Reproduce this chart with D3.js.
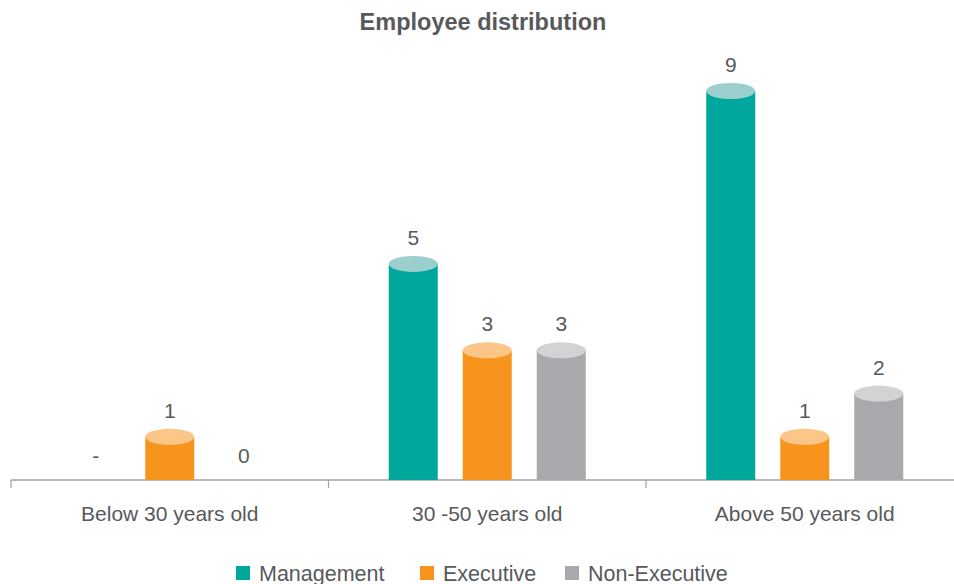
<!DOCTYPE html>
<html>
<head>
<meta charset="utf-8">
<script src="https://cdn.jsdelivr.net/npm/d3@7"></script>
<style>
  body { margin: 0; background: #fff; }
  svg { display: block; font-family: "Liberation Sans", Arial, sans-serif; }
</style>
</head>
<body>
<svg id="chart" width="954" height="584"></svg>
<script>
const categories = ["Below 30 years old", "30 -50 years old", "Above 50 years old"];
const seriesNames = ["Management", "Executive", "Non-Executive"];
const management = [null, 5, 9];
const executive = [1, 3, 1];
const nonExecutive = [0, 3, 2];

const bodyColors = ["#00a79d", "#f7941e", "#a7a9ac"];
const topColors = ["#9bcfcd", "#fdc689", "#d1d3d4"];
const textColor = "#58595b";

const svg = d3.select("#chart");
const baseY = 480;

const x0 = d3.scaleBand().domain(categories).range([11, 963.5]).padding(0);
const x1 = d3.scaleBand().domain(seriesNames).range([-98.5, 98.5]).paddingInner(0.338).paddingOuter(0);
const y = d3.scaleLinear().domain([0, 9]).range([baseY, 91]);

svg.append("text")
  .attr("x", 483).attr("y", 30)
  .attr("text-anchor", "middle")
  .attr("font-size", 23.5).attr("font-weight", "bold")
  .attr("fill", textColor)
  .text("Employee distribution");

// axis
const axis = svg.append("g");
axis.append("line")
  .attr("x1", 11).attr("x2", 954).attr("y1", baseY).attr("y2", baseY)
  .attr("stroke", "#a0a0a0").attr("stroke-width", 1.5);
categories.forEach((c) => {
  axis.append("line")
    .attr("x1", x0(c)).attr("x2", x0(c)).attr("y1", baseY).attr("y2", baseY + 8)
    .attr("stroke", "#a0a0a0").attr("stroke-width", 1.2);
  axis.append("text")
    .attr("x", x0(c) + x0.bandwidth() / 2).attr("y", 521)
    .attr("text-anchor", "middle").attr("font-size", 21)
    .attr("fill", textColor).text(c);
});

const seriesValues = [management, executive, nonExecutive];
const bw = x1.bandwidth();
const ry = 8;

categories.forEach((c, ci) => {
  const cx0 = x0(c) + x0.bandwidth() / 2;
  seriesNames.forEach((s, si) => {
    const v = seriesValues[si][ci];
    const left = cx0 + x1(s);
    const cx = left + bw / 2;
    if (v != null && v > 0) {
      const top = y(v);
      svg.append("rect")
        .attr("x", left).attr("y", top).attr("width", bw).attr("height", baseY - top)
        .attr("fill", bodyColors[si]);
      svg.append("ellipse")
        .attr("cx", cx).attr("cy", top).attr("rx", bw / 2).attr("ry", ry)
        .attr("fill", topColors[si]);
      svg.append("text")
        .attr("x", cx).attr("y", top - ry - 11)
        .attr("text-anchor", "middle").attr("font-size", 21)
        .attr("fill", textColor).text(v);
    } else {
      svg.append("text")
        .attr("x", cx).attr("y", baseY - 17)
        .attr("text-anchor", "middle").attr("font-size", 21)
        .attr("fill", textColor).text(v == null ? "-" : v);
    }
  });
});

// legend
const legendX = [236, 420, 565];
seriesNames.forEach((s, i) => {
  const g = svg.append("g").attr("transform", `translate(${legendX[i]},566)`);
  g.append("rect").attr("width", 14).attr("height", 14).attr("fill", bodyColors[i]);
  g.append("text").attr("x", 23).attr("y", 15)
    .attr("font-size", 21.5).attr("fill", textColor).text(s);
});
</script>
</body>
</html>
